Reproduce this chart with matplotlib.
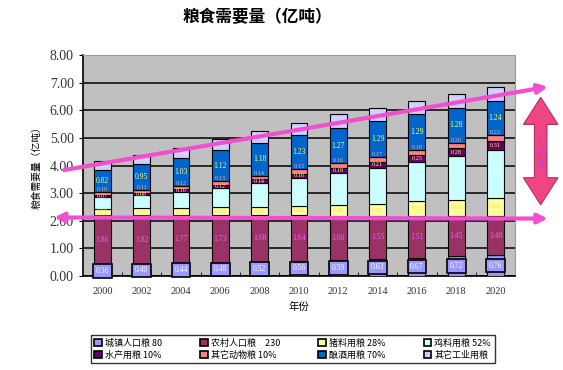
#! /usr/bin/env python

import matplotlib
matplotlib.use('Agg')
import matplotlib.pyplot as plt
from matplotlib.patches import Patch, Polygon, FancyArrowPatch
import numpy as np


# data (亿吨)
years = ['2000', '2002', '2004', '2006', '2008', '2010',
         '2012', '2014', '2016', '2018', '2020']
urban = [0.36, 0.40, 0.44, 0.48, 0.52, 0.56, 0.59, 0.63, 0.67, 0.72, 0.76]
rural = [1.86, 1.82, 1.77, 1.73, 1.68, 1.64, 1.60, 1.55, 1.51, 1.45, 1.40]
pig = [0.22, 0.24, 0.26, 0.28, 0.30, 0.34, 0.38, 0.42, 0.52, 0.60, 0.68]
chicken = [0.42, 0.47, 0.57, 0.69, 0.86, 1.01, 1.17, 1.33, 1.43, 1.57, 1.74]
aquatic = [0.07, 0.08, 0.10, 0.12, 0.14, 0.16, 0.18, 0.21, 0.25, 0.28, 0.31]
other_animal = [0.10, 0.11, 0.12, 0.13, 0.14, 0.15, 0.16, 0.17, 0.18, 0.20, 0.22]
brewing = [0.82, 0.95, 1.03, 1.12, 1.18, 1.23, 1.27, 1.29, 1.29, 1.28, 1.24]
other_industry = [0.30, 0.33, 0.36, 0.40, 0.43, 0.46, 0.50, 0.50, 0.50, 0.50, 0.50]

series_names = ['城镇人口粮 80', '农村人口粮　230', '猪料用粮 28%', '鸡料用粮 52%',
                '水产用粮 10%', '其它动物粮 10%', '酿酒用粮 70%', '其它工业用粮']
gap_label = '2.7亿吨'

# colours
COLORS = ['#9999ff', '#993366', '#ffff99', '#ccffff',
          '#660066', '#ff8080', '#0066cc', '#ccccff']
LABEL_COLORS = ['white', '#ff55ff', '#e8e070', '#d8f8f8',
                '#ffff66', '#ffb080', '#ffff66', '#e4e4ff']
PINK = '#f050d0'
NUM_FONT = 'Liberation Serif'


def make_chart():
    """
    make_chart:
    draws the stacked bars, arrows and legend and saves out.png
    """
    plt.rcParams['font.family'] = ['Noto Sans CJK SC', 'DejaVu Sans']

    fig = plt.figure(figsize=(5.63, 3.70), dpi=100)
    ax = fig.add_axes([0.147, 0.254, 0.768, 0.597])
    ax.set_facecolor('#c0c0c0')

    x = np.arange(len(years))
    series = [urban, rural, pig, chicken, aquatic,
              other_animal, brewing, other_industry]
    bottom = np.zeros(len(years))
    for i, vals in enumerate(series):
        vals = np.array(vals)
        ax.bar(x, vals, 0.43, bottom=bottom, color=COLORS[i],
               edgecolor='black', linewidth=0.8, zorder=3)
        for xi, b, v in zip(x, bottom, vals):
            txt = f'{v:.2f}'
            if i == 0:
                ax.text(xi, b + v / 2, txt, ha='center', va='center',
                        fontsize=5.5, family=NUM_FONT, color='white',
                        zorder=5,
                        bbox=dict(boxstyle='square,pad=0.35', fc=COLORS[0],
                                  ec='black', lw=1.2))
            elif i == 5:
                # thin segment: label sits on its top edge
                ax.text(xi, b + v, txt, ha='center', va='bottom',
                        fontsize=4.5, family=NUM_FONT,
                        color=LABEL_COLORS[i], zorder=5)
            elif i in (2, 3, 4):
                ax.text(xi, b + v / 2, txt, ha='center', va='center',
                        fontsize=4.5, family=NUM_FONT,
                        color=LABEL_COLORS[i], zorder=5)
            else:
                ax.text(xi, b + v / 2, txt, ha='center', va='center',
                        fontsize=5.5, family=NUM_FONT,
                        color=LABEL_COLORS[i], zorder=5)
        bottom = bottom + vals

    ax.set_xlim(-0.5, len(years) - 0.5)
    ax.set_ylim(0, 8)
    ax.set_yticks(np.arange(0, 9))
    ax.set_yticklabels([f'{v:.2f}' for v in range(9)],
                       family=NUM_FONT, fontsize=10, color='#333333')
    ax.set_xticks(x)
    ax.set_xticklabels(years, family=NUM_FONT, fontsize=7.5, color='#333333')
    ax.set_xticks(x[:-1] + 0.5, minor=True)
    ax.tick_params(axis='x', which='major', length=0, pad=8)
    ax.tick_params(axis='x', which='minor', direction='in', length=3)
    ax.tick_params(axis='y', length=3)
    ax.grid(axis='y', color='black', linewidth=1.1, zorder=1)
    ax.set_axisbelow(True)
    for s in ['top', 'right']:
        ax.spines[s].set_color('#999999')
    for s in ['left', 'bottom']:
        ax.spines[s].set_linewidth(1.2)

    ax.set_xlabel('年份', fontsize=7.5, labelpad=4)
    ax.set_ylabel('粮食需要量（亿吨）', fontsize=7, labelpad=6)
    fig.text(0.457, 0.955, '粮食需要量（亿吨）', ha='center', va='center',
             fontsize=12, fontweight='bold')

    # pink trend arrows
    up = FancyArrowPatch((-1.05, 3.82), (11.4, 6.87), arrowstyle='-|>',
                         mutation_scale=14, color=PINK, lw=3,
                         clip_on=False, zorder=6)
    ax.add_patch(up)
    flat = FancyArrowPatch((-1.3, 2.12), (11.4, 2.08), arrowstyle='<|-|>',
                           mutation_scale=14, color=PINK, lw=3,
                           clip_on=False, zorder=6)
    ax.add_patch(flat)

    # fat vertical double arrow
    cx, top, bot = 11.15, 6.47, 2.58
    sw, hw, hl = 0.16, 0.44, 0.98
    pts = [(cx, top), (cx + hw, top - hl), (cx + sw, top - hl),
           (cx + sw, bot + hl), (cx + hw, bot + hl), (cx, bot),
           (cx - hw, bot + hl), (cx - sw, bot + hl), (cx - sw, top - hl),
           (cx - hw, top - hl)]
    ax.add_patch(Polygon(pts, closed=True, fc='#f04585', ec='#b03060',
                         lw=0.8, clip_on=False, zorder=6))
    ax.text(cx, (top + bot) / 2, gap_label, rotation=-90, ha='center',
            va='center', fontsize=7, color='#c040c0', zorder=7)

    # legend, filled column by column
    handles = [Patch(fc=c, ec='black', lw=1.2) for c in COLORS]
    order = [0, 4, 1, 5, 2, 6, 3, 7]
    fig.legend([handles[i] for i in order], [series_names[i] for i in order],
               ncol=4, loc='center', bbox_to_anchor=(0.52, 0.057),
               fontsize=6.5, frameon=True, fancybox=False, edgecolor='black',
               handlelength=0.8, handleheight=0.8, handletextpad=0.4,
               columnspacing=4.2, labelspacing=0.3, borderpad=0.4)

    fig.savefig('out.png', dpi=100)


def main():
    make_chart()


if __name__ == "__main__":
    main()
